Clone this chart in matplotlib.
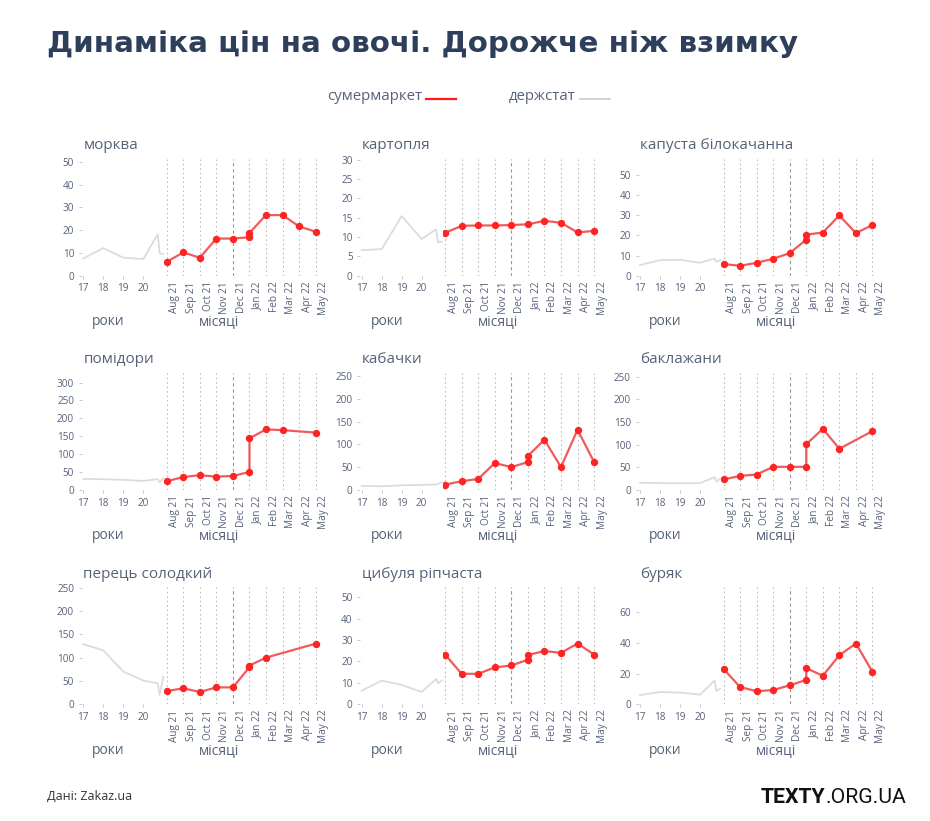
import matplotlib
matplotlib.use("Agg")
import matplotlib.pyplot as plt

# ---------------- data ----------------
MONTHS = ['Aug 21', 'Sep 21', 'Oct 21', 'Nov 21', 'Dec 21',
          'Jan 22', 'Feb 22', 'Mar 22', 'Apr 22', 'May 22']
YEAR_TICKS = [17, 18, 19, 20]
GRAY_X = [17, 18, 19, 20, 20.72, 20.82, 21.0]

FULL_X = ['Aug 21', 'Sep 21', 'Oct 21', 'Nov 21', 'Dec 21', 'Jan 22', 'Jan 22',
          'Feb 22', 'Mar 22', 'Apr 22', 'May 22']
SINGLE_JAN_X = ['Aug 21', 'Sep 21', 'Oct 21', 'Nov 21', 'Dec 21', 'Jan 22',
                'Feb 22', 'Mar 22', 'Apr 22', 'May 22']
NO_APR_X = ['Aug 21', 'Sep 21', 'Oct 21', 'Nov 21', 'Dec 21', 'Jan 22', 'Jan 22',
            'Feb 22', 'Mar 22', 'May 22']
PEPPER_X = ['Aug 21', 'Sep 21', 'Oct 21', 'Nov 21', 'Dec 21', 'Jan 22', 'Jan 22',
            'Feb 22', 'May 22']

names = ['морква', 'картопля', 'капуста білокачанна',
         'помідори', 'кабачки', 'баклажани',
         'перець солодкий', 'цибуля ріпчаста', 'буряк']

gray_morkva = [7.6, 12.1, 7.9, 7.3, 18.2, 9.8, 9.5]
gray_kartoplia = [6.6, 6.9, 15.4, 9.5, 12.0, 8.6, 8.8]
gray_kapusta = [5.3, 7.7, 7.9, 6.4, 8.5, 6.8, 7.8]
gray_pomidory = [30.7, 29.8, 28, 25, 30, 21, 33]
gray_kabachky = [8.8, 8, 10, 11, 12, 12.5, 17]
gray_baklazhany = [15.7, 15, 15, 15, 28, 18.6, 24.6]
gray_perets = [129, 115.6, 70, 50.6, 44.8, 19.5, 59]
gray_tsybulia = [6.3, 11, 9, 5.7, 11.8, 9.8, 11]
gray_buriak = [5.9, 7.9, 7.5, 6.2, 15.4, 8.6, 10]

red_morkva = [6.1, 10.2, 7.9, 16.3, 16.3, 16.9, 18.8, 26.6, 26.6, 21.6, 19.3]
red_kartoplia = [11.1, 12.9, 13.0, 13.0, 13.1, 13.3, 14.2, 13.7, 11.2, 11.6]
red_kapusta = [5.8, 4.9, 6.4, 8.4, 11.2, 17.9, 20.4, 21.4, 29.9, 21.1, 25.2]
red_pomidory = [24, 36, 41, 37, 39, 50, 144, 169, 167, 160]
red_kabachky = [11.7, 19, 24, 59, 50, 61, 74.6, 110, 50, 132, 61]
red_baklazhany = [23, 31, 34, 51, 51, 51, 101, 135, 91, 130]
red_perets = [28, 34, 26, 36, 36, 79.5, 83, 100, 130]
red_tsybulia = [23.2, 14.2, 14.2, 17.2, 18.1, 20.8, 23, 24.9, 24, 28.4, 23.2]
red_buriak = [23, 11.2, 8.4, 9.2, 12.3, 15.8, 23.5, 18.5, 32, 39.6, 21]

gray_series = [gray_morkva, gray_kartoplia, gray_kapusta, gray_pomidory, gray_kabachky,
               gray_baklazhany, gray_perets, gray_tsybulia, gray_buriak]
red_series = [red_morkva, red_kartoplia, red_kapusta, red_pomidory, red_kabachky,
              red_baklazhany, red_perets, red_tsybulia, red_buriak]
red_x = [FULL_X, SINGLE_JAN_X, FULL_X, NO_APR_X, FULL_X, NO_APR_X, PEPPER_X, FULL_X, FULL_X]

y_ticks = [list(range(0, 51, 10)), list(range(0, 31, 5)), list(range(0, 51, 10)),
           list(range(0, 301, 50)), list(range(0, 251, 50)), list(range(0, 251, 50)),
           list(range(0, 251, 50)), list(range(0, 51, 10)), list(range(0, 61, 20))]
y_tops = [51.2, 30.2, 57.9, 326, 256, 258, 251, 54.7, 76.3]

# ---------------- style ----------------
W, H = 930, 821
fig = plt.figure(figsize=(W / 100, H / 100), dpi=100)
fig.patch.set_facecolor('white')

FONT = ['Open Sans', 'DejaVu Sans']
TXT = '#56627a'
RED_LINE = '#f04848'
RED_MARK = '#ff2424'
GRAY = '#dcdcdc'


def fx(px):
    return px / W


def fy(py):
    return 1 - py / H


month_idx = {m: i for i, m in enumerate(MONTHS)}

for k in range(9):
    r, c = divmod(k, 3)
    X0 = 83.3 + 278.4 * c       # pixel of year 17
    Y0 = 275.7 + 214.2 * r      # pixel of value 0
    h = 116.7

    axl = fig.add_axes([fx(X0 - 1.5), fy(Y0), fx(82.5), h / H])
    axr = fig.add_axes([fx(X0 + 81), fy(Y0), fx(160), h / H], sharey=axl)

    for ax in (axl, axr):
        for s in ax.spines.values():
            s.set_visible(False)
        ax.set_facecolor('none')

    # left (years)
    axl.plot(GRAY_X, gray_series[k], color=GRAY, lw=1.3, solid_joinstyle='round')
    axl.set_xlim(16.925, 21.05)
    axl.set_ylim(0, y_tops[k])
    axl.set_yticks(y_ticks[k])
    axl.set_xticks(YEAR_TICKS)
    axl.set_xticklabels([str(t) for t in YEAR_TICKS], family=FONT, fontsize=7.2, color=TXT)
    axl.set_yticklabels([str(t) for t in y_ticks[k]], family=FONT, fontsize=7.2, color=TXT)
    axl.tick_params(axis='both', length=2.5, width=0.7, color='#c8c8c8', pad=3)

    # right (months)
    for i, m in enumerate(MONTHS):
        if i == 4:
            axr.axvline(i, color='#999999', lw=0.8, ls=(0, (3, 2.5)), zorder=1)
        else:
            axr.axvline(i, color='#bdbdbd', lw=0.8, ls=(0, (1.5, 2.5)), zorder=1)
    xs = [month_idx[m] for m in red_x[k]]
    axr.plot(xs, red_series[k], color=RED_LINE, lw=1.6, alpha=0.9, zorder=3)
    axr.plot(xs, red_series[k], ls='none', marker='o', ms=4.3,
             color=RED_MARK, mec=RED_MARK, zorder=4)
    axr.set_xlim(-0.145, 9.52)
    axr.set_xticks([i + 0.5 for i in range(len(MONTHS))])
    axr.set_xticklabels(MONTHS, rotation=90, family=FONT, fontsize=7.2, color=TXT)
    axr.tick_params(axis='x', length=0, pad=4)
    axr.tick_params(axis='y', left=False, labelleft=False)

    # panel texts
    fig.text(fx(X0), fy(Y0 - 130), names[k], family=FONT, fontsize=11, color=TXT,
             ha='left', va='center')
    fig.text(fx(X0 + 25), fy(Y0 + 46), 'роки', family=FONT, fontsize=10, color=TXT,
             ha='center', va='center')
    fig.text(fx(X0 + 136), fy(Y0 + 46), 'місяці', family=FONT, fontsize=10, color=TXT,
             ha='center', va='center')

# title
fig.text(fx(47), fy(44), 'Динаміка цін на овочі. Дорожче ніж взимку',
         family=['DejaVu Sans'], fontweight='bold', fontsize=21.2, color='#2e3f5c',
         ha='left', va='center')

# legend
fig.text(fx(327), fy(96), 'сумермаркет', family=FONT, fontsize=10.8, color=TXT,
         ha='left', va='center')
fig.add_artist(plt.Line2D([fx(426), fx(456)], [fy(99), fy(99)], color='#ff1a1a', lw=1.6))
fig.text(fx(509), fy(96), 'держстат', family=FONT, fontsize=10.8, color=TXT,
         ha='left', va='center')
fig.add_artist(plt.Line2D([fx(580), fx(610)], [fy(99), fy(99)], color='#cccccc', lw=1.2))

# footer
fig.text(fx(47), fy(796), 'Дані: Zakaz.ua', family=FONT, fontsize=9, color='#333333',
         ha='left', va='center')
t2 = fig.text(fx(906), fy(797), '.ORG.UA', family=['Roboto', 'DejaVu Sans'], fontsize=15.3,
              color='#111111', ha='right', va='center')
fig.canvas.draw()
bb = t2.get_window_extent()
fig.text(bb.x0 / W, fy(797), 'TEXTY', family=['Roboto', 'DejaVu Sans'], fontsize=15.3,
         fontweight='bold', color='#111111', ha='right', va='center')

fig.savefig('out.png', dpi=100, facecolor='white')
